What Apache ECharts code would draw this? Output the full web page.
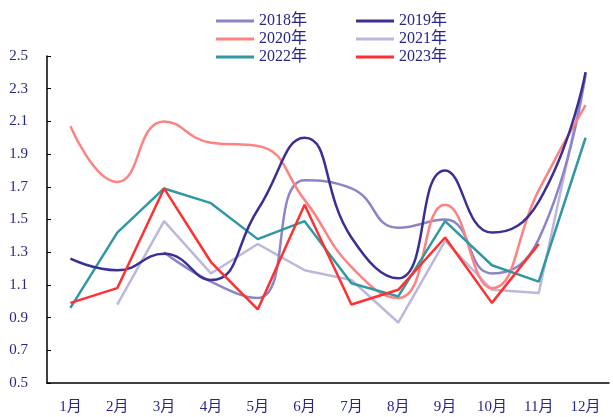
<!DOCTYPE html>
<html>
<head>
<meta charset="utf-8">
<script src="https://cdn.jsdelivr.net/npm/echarts@6/dist/echarts.min.js"></script>
<style>
    html, body { margin: 0; padding: 0; background: #fff; }
    #chart { width: 613px; height: 417px; }
</style>
</head>
<body>
<div id="chart"></div>
<script>
const months = ['1月', '2月', '3月', '4月', '5月', '6月', '7月', '8月', '9月', '10月', '11月', '12月'];

const y2018 = [null, null, 1.30, 1.12, 1.02, 1.74, 1.69, 1.45, 1.50, 1.17, 1.38, 2.40];
const y2019 = [1.26, 1.19, 1.29, 1.13, 1.56, 2.00, 1.39, 1.14, 1.80, 1.42, 1.61, 2.40];
const y2020 = [2.07, 1.73, 2.10, 1.97, 1.95, 1.62, 1.21, 1.02, 1.59, 1.08, 1.68, 2.20];
const y2021 = [null, 0.98, 1.49, 1.17, 1.35, 1.19, 1.13, 0.87, 1.37, 1.07, 1.05, 2.38];
const y2022 = [0.96, 1.42, 1.69, 1.60, 1.38, 1.49, 1.11, 1.03, 1.49, 1.22, 1.12, 2.00];
const y2023 = [0.99, 1.08, 1.69, 1.24, 0.95, 1.59, 0.98, 1.07, 1.39, 0.99, 1.35, null];

const textColor = '#26268c';
const fontFamily = "'Liberation Serif', 'Noto Sans CJK SC', serif";

const lineSeries = (name, data, color, smooth) => ({
    name: name,
    type: 'line',
    data: data,
    smooth: smooth ? 0.5 : false,
    symbol: 'none',
    connectNulls: false,
    lineStyle: { color: color, width: 2.5 },
    itemStyle: { color: color }
});

const legendOpt = (names, left) => ({
    data: names,
    orient: 'vertical',
    left: left,
    top: 8,
    itemGap: 2,
    itemWidth: 38,
    itemHeight: 3,
    icon: 'rect',
    textStyle: { color: textColor, fontSize: 16, fontFamily: fontFamily }
});

const chart = echarts.init(document.getElementById('chart'));
chart.setOption({
    animation: false,
    legend: [
        legendOpt(['2018年', '2020年', '2022年'], 211),
        legendOpt(['2019年', '2021年', '2023年'], 351)
    ],
    grid: { left: 47, right: 4, top: 56, bottom: 34 },
    xAxis: {
        type: 'category',
        data: months,
        boundaryGap: true,
        axisLine: { lineStyle: { color: '#000', width: 1.5 } },
        axisTick: { inside: true, length: 4, lineStyle: { color: '#000' } },
        axisLabel: { color: textColor, fontSize: 15, fontFamily: fontFamily, margin: 17, interval: 0 }
    },
    yAxis: {
        type: 'value',
        min: 0.5,
        max: 2.5,
        interval: 0.2,
        splitLine: { show: false },
        axisLine: { show: true, lineStyle: { color: '#000', width: 1.5 } },
        axisTick: { show: true, inside: true, length: 4, lineStyle: { color: '#000' } },
        axisLabel: {
            color: textColor,
            fontSize: 15,
            fontFamily: fontFamily,
            margin: 19,
            formatter: (v) => v.toFixed(1)
        }
    },
    series: [
        lineSeries('2021年', y2021, '#bdb7de', false),
        lineSeries('2018年', y2018, '#8c84c6', true),
        lineSeries('2020年', y2020, '#ff8282', true),
        lineSeries('2022年', y2022, '#2f98a4', false),
        lineSeries('2019年', y2019, '#3a2f94', true),
        lineSeries('2023年', y2023, '#ff3030', false)
    ]
});
</script>
</body>
</html>
